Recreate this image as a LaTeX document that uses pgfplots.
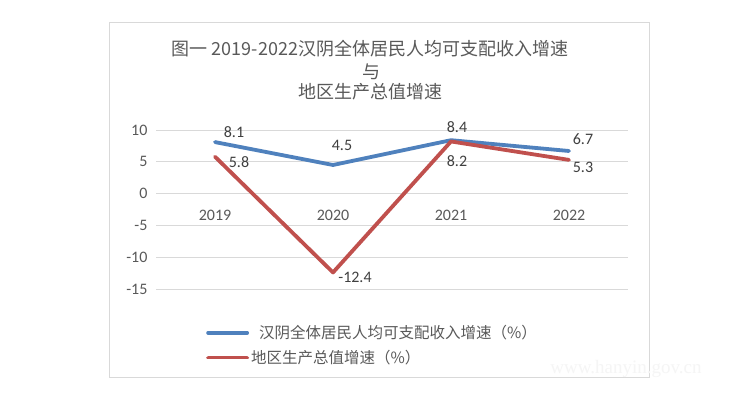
\documentclass[border=0pt]{standalone}
\usepackage{pgfplots}
\pgfplotsset{compat=1.18}
\usepackage{fontspec}
\setmainfont{Carlito}
\newfontfamily\cjk{Noto Sans CJK SC}
\newfontfamily\wm{Liberation Serif}
\definecolor{sblue}{HTML}{4F81BD}
\definecolor{sred}{HTML}{C0504D}
\definecolor{gridc}{HTML}{D9D9D9}
\definecolor{txt}{HTML}{595959}
\definecolor{lbl}{HTML}{404040}
\begin{document}
\begin{tikzpicture}[x=1pt,y=1pt]
\fill[white] (0,0) rectangle (730,397);
\draw[gridc, line width=1pt] (109,20) rectangle (649,374);
\node[txt, font=\cjk\fontsize{18}{18}\selectfont] at (370,348) {图一 2019-2022汉阴全体居民人均可支配收入增速};
\node[txt, font=\cjk\fontsize{18}{18}\selectfont] at (371,325) {与};
\node[txt, font=\cjk\fontsize{18}{18}\selectfont] at (370,305) {地区生产总值增速};
\node[black!4, font=\wm\fontsize{19}{19}\selectfont] at (626,28) {www.hanyin.gov.cn};
\begin{axis}[
  at={(156pt,108pt)}, anchor=south west,
  scale only axis, width=472pt, height=159pt,
  xmin=-0.5, xmax=3.5, ymin=-15, ymax=10,
  xtick={0,1,2,3}, xticklabels={2019,2020,2021,2022},
  ytick={-15,-10,-5,0,5,10},
  axis line style={draw=none}, major tick style={draw=none},
  ymajorgrids, grid style={gridc, line width=1pt},
  /pgf/number format/assume math mode=true,
  ticklabel style={font=\fontsize{16}{16}\selectfont, text=txt},
  xticklabel style={anchor=center, yshift=74pt},
  yticklabel style={xshift=-5pt},
  clip=false,
  legend style={at={(0.106,-0.215)}, anchor=north west, draw=none, fill=none,
    inner sep=0pt, row sep=6pt, font=\cjk\fontsize{15.5}{15.5}\selectfont, text=txt,
    legend cell align=left},
  legend image code/.code={\draw[#1, line cap=round] (0pt,0pt) -- (39pt,0pt);},
]
\addplot[sblue, line width=3.8pt, line join=round, line cap=round] coordinates {(0,8.1) (1,4.5) (2,8.4) (3,6.7)};
\addlegendentry{\hspace{8pt}汉阴全体居民人均可支配收入增速（\%）}
\addplot[sred, line width=3.8pt, line join=round, line cap=round] coordinates {(0,5.8) (1,-12.4) (2,8.2) (3,5.3)};
\addlegendentry{地区生产总值增速（\%）}
\begin{scope}[every node/.style={text=lbl, font=\fontsize{16}{16}\selectfont}]
\node at (axis cs:0,8.1) [xshift=19pt, yshift=10pt] {8.1};
\node at (axis cs:0,5.8) [xshift=24pt, yshift=-5pt] {5.8};
\node at (axis cs:1,4.5) [xshift=9pt, yshift=20pt] {4.5};
\node at (axis cs:1,-12.4) [xshift=22pt, yshift=-5pt] {-12.4};
\node at (axis cs:2,8.4) [xshift=6pt, yshift=13pt] {8.4};
\node at (axis cs:2,8.2) [xshift=6pt, yshift=-20pt] {8.2};
\node at (axis cs:3,6.7) [xshift=14pt, yshift=12pt] {6.7};
\node at (axis cs:3,5.3) [xshift=14pt, yshift=-7pt] {5.3};
\end{scope}
\end{axis}
\end{tikzpicture}
\end{document}
